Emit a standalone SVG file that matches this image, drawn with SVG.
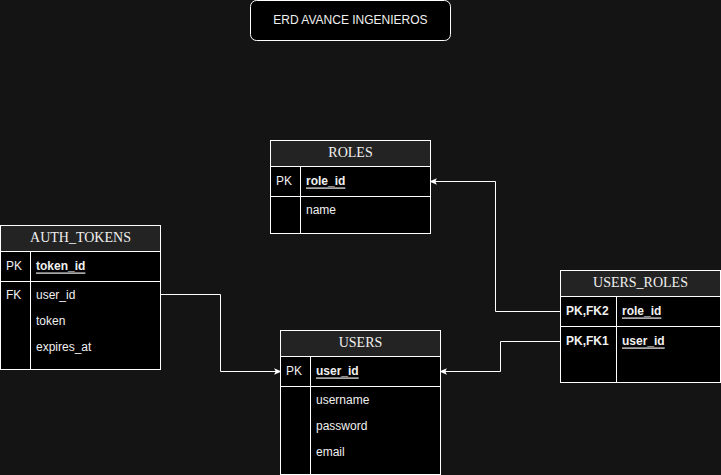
<svg xmlns="http://www.w3.org/2000/svg" width="721" height="475" viewBox="0 0 721 475">
<defs>
<style>
.bg{fill:#141414}
.hdr{fill:#232323;stroke:#ffffff;stroke-width:1}
.body{fill:#000000;stroke:#ffffff;stroke-width:1}
.ln{stroke:#ffffff;stroke-width:1;fill:none}
.ht{font-family:"Liberation Serif",serif;font-size:14px;fill:#f0f0f0;text-anchor:middle;dominant-baseline:central}
.ft{font-family:"Liberation Sans",Arial,sans-serif;font-size:12px;fill:#f0f0f0;dominant-baseline:central}
.pk{font-weight:bold;text-decoration:underline}
.b{font-weight:bold}
.edge{stroke:#ffffff;stroke-width:1;fill:none}
</style>
<marker id="arr" viewBox="0 0 10 10" refX="9" refY="5" markerWidth="8" markerHeight="8" markerUnits="userSpaceOnUse" orient="auto">
<path d="M1,1 L10,5 L1,9 L3,5 Z" fill="#ffffff"/>
</marker>
</defs>
<rect class="bg" x="0" y="0" width="721" height="475"/>

<g id="title">
<rect x="250.5" y="0.5" width="200" height="40" rx="6" fill="#000000" stroke="#ffffff"/>
<text x="350.5" y="19.5" class="ft" text-anchor="middle">ERD AVANCE INGENIEROS</text>
</g>

<g id="roles">
<rect class="body" x="270.5" y="140.5" width="160" height="93"/>
<rect class="hdr" x="270.5" y="140.5" width="160" height="26"/>
<text class="ht" x="350.5" y="152.5">ROLES</text>
<line class="ln" x1="270.5" y1="196.5" x2="430.5" y2="196.5"/>
<line class="ln" x1="300.5" y1="166.5" x2="300.5" y2="233.5"/>
<text class="ft" x="276" y="180.5">PK</text>
<text class="ft pk" x="306" y="180.5">role_id</text>
<text class="ft" x="306" y="209.5">name</text>
</g>

<g id="auth_tokens">
<rect class="body" x="0.5" y="225.5" width="160" height="144"/>
<rect class="hdr" x="0.5" y="225.5" width="160" height="26"/>
<text class="ht" x="80.5" y="237.5">AUTH_TOKENS</text>
<line class="ln" x1="0.5" y1="281.5" x2="160.5" y2="281.5"/>
<line class="ln" x1="30.5" y1="251.5" x2="30.5" y2="369.5"/>
<text class="ft" x="6" y="265.5">PK</text>
<text class="ft pk" x="36" y="265.5">token_id</text>
<text class="ft" x="6" y="294.5">FK</text>
<text class="ft" x="36" y="294.5">user_id</text>
<text class="ft" x="36" y="320.5">token</text>
<text class="ft" x="36" y="346.5">expires_at</text>
</g>

<g id="users">
<rect class="body" x="280.5" y="330.5" width="160" height="144"/>
<rect class="hdr" x="280.5" y="330.5" width="160" height="26"/>
<text class="ht" x="360.5" y="342.5">USERS</text>
<line class="ln" x1="280.5" y1="386.5" x2="440.5" y2="386.5"/>
<line class="ln" x1="310.5" y1="356.5" x2="310.5" y2="474.5"/>
<text class="ft" x="286" y="370.5">PK</text>
<text class="ft pk" x="316" y="370.5">user_id</text>
<text class="ft" x="316" y="399.5">username</text>
<text class="ft" x="316" y="425.5">password</text>
<text class="ft" x="316" y="451.5">email</text>
</g>

<g id="users_roles">
<rect class="body" x="560.5" y="270.5" width="160" height="112"/>
<rect class="hdr" x="560.5" y="270.5" width="160" height="26"/>
<text class="ht" x="640.5" y="282.5">USERS_ROLES</text>
<line class="ln" x1="560.5" y1="326.5" x2="720.5" y2="326.5"/>
<line class="ln" x1="616.5" y1="296.5" x2="616.5" y2="382.5"/>
<text class="ft b" x="566" y="310.5">PK,FK2</text>
<text class="ft pk" x="622" y="310.5">role_id</text>
<text class="ft b" x="566" y="340.5">PK,FK1</text>
<text class="ft pk" x="622" y="340.5">user_id</text>
</g>

<g id="connectors">
<path class="edge" d="M160.5,294.5 L220.5,294.5 L220.5,371.5 L280.5,371.5" marker-end="url(#arr)"/>
<path class="edge" d="M560.5,311.5 L495.5,311.5 L495.5,181.5 L430.5,181.5" marker-end="url(#arr)"/>
<path class="edge" d="M560.5,341.5 L500.5,341.5 L500.5,371.5 L440.5,371.5" marker-end="url(#arr)"/>
</g>
</svg>
